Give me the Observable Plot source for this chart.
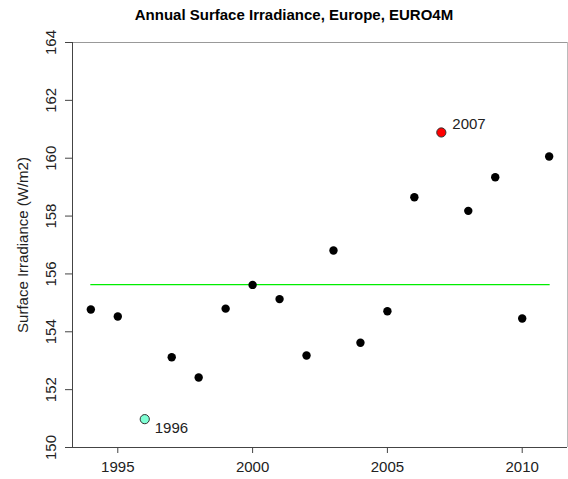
<!DOCTYPE html>
<html>
<head>
<meta charset="utf-8">
<script src="https://cdn.jsdelivr.net/npm/d3@7"></script>
<script src="https://cdn.jsdelivr.net/npm/@observablehq/plot@0.6"></script>
<style>
  body { margin: 0; background: #fff; font-family: "Liberation Sans", Arial, sans-serif; }
  #title { height: 30px; line-height: 30px; font-weight: bold; font-size: 15px; color: #000; text-align: center; width: 568px; padding-left: 20px; box-sizing: border-box; }
</style>
</head>
<body>
<div id="title">Annual Surface Irradiance, Europe, EURO4M</div>
<div id="chart"></div>
<script>
const years = [1994, 1995, 1996, 1997, 1998, 1999, 2000, 2001, 2002, 2003, 2004, 2005, 2006, 2007, 2008, 2009, 2010, 2011];
const irradiance = [154.77, 154.53, 150.98, 153.12, 152.42, 154.80, 155.62, 155.13, 153.18, 156.81, 153.62, 154.71, 158.65, 160.89, 158.18, 159.34, 154.46, 160.06];
const meanValue = 155.63;
const highlightYears = [1996, 2007];
const highlightColors = ["#7fffd4", "#ff0000"];
const xTicks = [1995, 2000, 2005, 2010];
const yTicks = [150, 152, 154, 156, 158, 160, 162, 164];
const yLabel = "Surface Irradiance (W/m2)";

const data = years.map((y, i) => ({year: y, value: irradiance[i]}));
const normal = data.filter(d => !highlightYears.includes(d.year));
const highlighted = data.filter(d => highlightYears.includes(d.year))
  .map(d => ({...d, color: highlightColors[highlightYears.indexOf(d.year)]}));
const meanLine = [{year: years[0], value: meanValue}, {year: years[years.length - 1], value: meanValue}];

const x0 = 1993.32, x1 = 2011.68;

const chart = Plot.plot({
  width: 568,
  height: 449,
  marginLeft: 72,
  marginRight: 1,
  marginTop: 12,
  marginBottom: 32,
  style: {fontFamily: "Liberation Sans, Arial, sans-serif", fontSize: "15px", color: "#222", background: "#fff"},
  x: {domain: [x0, x1], axis: null},
  y: {domain: [150, 164], axis: null},
  marks: [
    // box (top & right)
    Plot.ruleY([164], {stroke: "#999", strokeWidth: 1}),
    Plot.ruleX([x1], {stroke: "#bbb", strokeWidth: 1}),
    // axis lines
    Plot.ruleX([x0], {stroke: "#444", strokeWidth: 1}),
    Plot.ruleY([150], {stroke: "#444", strokeWidth: 1}),
    // y ticks and rotated labels
    Plot.axisY({ticks: yTicks, tickSize: 7, tickFormat: () => "", stroke: "#444", label: null}),
    Plot.text(yTicks, {y: d => d, frameAnchor: "left", dx: -21, rotate: -90, textAnchor: "middle", text: d => String(d), fill: "#222", fontSize: 15}),
    // x ticks
    Plot.axisX({ticks: xTicks, tickSize: 6, tickFormat: d => String(d), tickPadding: 8, stroke: "#444", fill: "#222", fontSize: 15, label: null}),
    // y label
    Plot.text([yLabel], {frameAnchor: "left", dx: -49, rotate: -90, textAnchor: "middle", text: d => d, fill: "#222", fontSize: 15}),
    // mean line
    Plot.line(meanLine, {x: "year", y: "value", stroke: "#00ee00", strokeWidth: 1.3}),
    // points
    Plot.dot(normal, {x: "year", y: "value", r: 4.2, fill: "#000", stroke: "none"}),
    Plot.dot(highlighted, {x: "year", y: "value", r: 4.6, fill: "color", stroke: "#333", strokeWidth: 1}),
    Plot.text(highlighted.filter(d => d.year === 2007), {x: "year", y: "value", text: d => String(d.year), dx: 11, dy: -8.5, textAnchor: "start", fill: "#222", fontSize: 15}),
    Plot.text(highlighted.filter(d => d.year === 1996), {x: "year", y: "value", text: d => String(d.year), dx: 10, dy: 9.5, textAnchor: "start", fill: "#222", fontSize: 15})
  ]
});
document.getElementById("chart").appendChild(chart);
</script>
</body>
</html>
